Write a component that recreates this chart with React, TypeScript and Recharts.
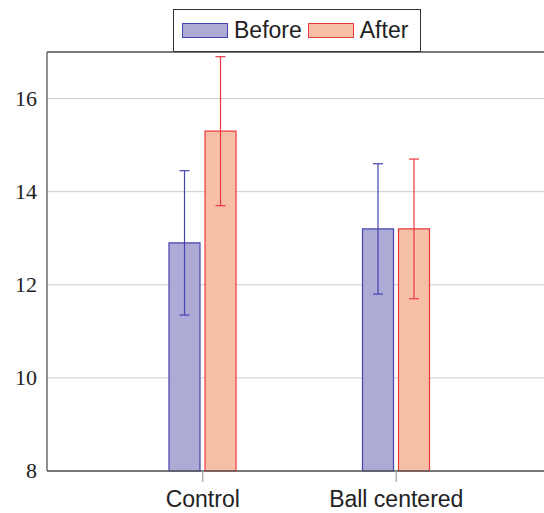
import React from 'react';
import { BarChart, Bar, XAxis, YAxis, CartesianGrid, ErrorBar, ReferenceLine } from 'recharts';

const categories = ['Control', 'Ball centered'];
const beforeValues = [12.9, 13.2];
const beforeErrors = [1.55, 1.4];
const afterValues = [15.3, 13.2];
const afterErrors = [1.6, 1.5];
const yTicks = [8, 10, 12, 14, 16];

const BEFORE_FILL = '#aeaad6';
const BEFORE_STROKE = '#4444b0';
const AFTER_FILL = '#f8bfa7';
const AFTER_STROKE = '#ea3a3f';

const data = categories.map((name, i) => ({
  name,
  before: beforeValues[i],
  beforeErr: beforeErrors[i],
  after: afterValues[i],
  afterErr: afterErrors[i],
}));

const sans = '"Liberation Sans", Arial, sans-serif';
const serif = '"Liberation Serif", "Times New Roman", serif';

const YTick = (props: any) => {
  const { x, y, payload } = props;
  return (
    <text x={x} y={y} dy={7} textAnchor="end" fill="#222" style={{ fontFamily: serif, fontSize: 22 }}>
      {payload.value}
    </text>
  );
};

const LegendBox = () => (
  <div
    style={{
      position: 'absolute',
      left: 173,
      top: 9,
      width: 246,
      height: 41,
      border: '1.3px solid #333',
      background: '#fff',
      display: 'flex',
      alignItems: 'center',
      fontFamily: sans,
      fontSize: 23,
      color: '#222',
      boxSizing: 'content-box',
    }}
  >
    <span style={{ width: 44, height: 13, background: BEFORE_FILL, border: `1.3px solid ${BEFORE_STROKE}`, marginLeft: 8, marginRight: 6 }} />
    <span>Before</span>
    <span style={{ width: 44, height: 13, background: AFTER_FILL, border: `1.3px solid ${AFTER_STROKE}`, marginLeft: 6, marginRight: 6 }} />
    <span>After</span>
  </div>
);

export default function App() {
  return (
    <div style={{ position: 'relative', width: 544, height: 513, overflow: 'hidden' }}>
      <style>{'body{margin:0}'}</style>
      <BarChart
        width={552}
        height={513}
        data={data}
        margin={{ top: 52, right: 0, left: 0, bottom: 0 }}
        barSize={31}
        barGap={5}
      >
        <CartesianGrid vertical={false} stroke="#cccccc" strokeWidth={1} />
        <XAxis
          dataKey="name"
          height={42}
          padding={{ left: 59, right: 59 }}
          stroke="#555"
          strokeWidth={1.3}
          tickLine={{ stroke: '#aaa' }}
          tickSize={11}
          tickMargin={9}
          tick={{ fontFamily: sans, fontSize: 23, fill: '#222' }}
        />
        <YAxis
          width={47}
          domain={[8, 17]}
          ticks={yTicks}
          stroke="#555"
          strokeWidth={1.3}
          tickLine={false}
          tickSize={0}
          tickMargin={10}
          tick={<YTick />}
        />
        <ReferenceLine y={17} stroke="#555" strokeWidth={1.3} />
        <Bar dataKey="before" fill={BEFORE_FILL} stroke={BEFORE_STROKE} strokeWidth={1.2} isAnimationActive={false}>
          <ErrorBar dataKey="beforeErr" width={5} stroke={BEFORE_STROKE} strokeWidth={1.2} />
        </Bar>
        <Bar dataKey="after" fill={AFTER_FILL} stroke={AFTER_STROKE} strokeWidth={1.2} isAnimationActive={false}>
          <ErrorBar dataKey="afterErr" width={5} stroke={AFTER_STROKE} strokeWidth={1.2} />
        </Bar>
      </BarChart>
      <LegendBox />
    </div>
  );
}
